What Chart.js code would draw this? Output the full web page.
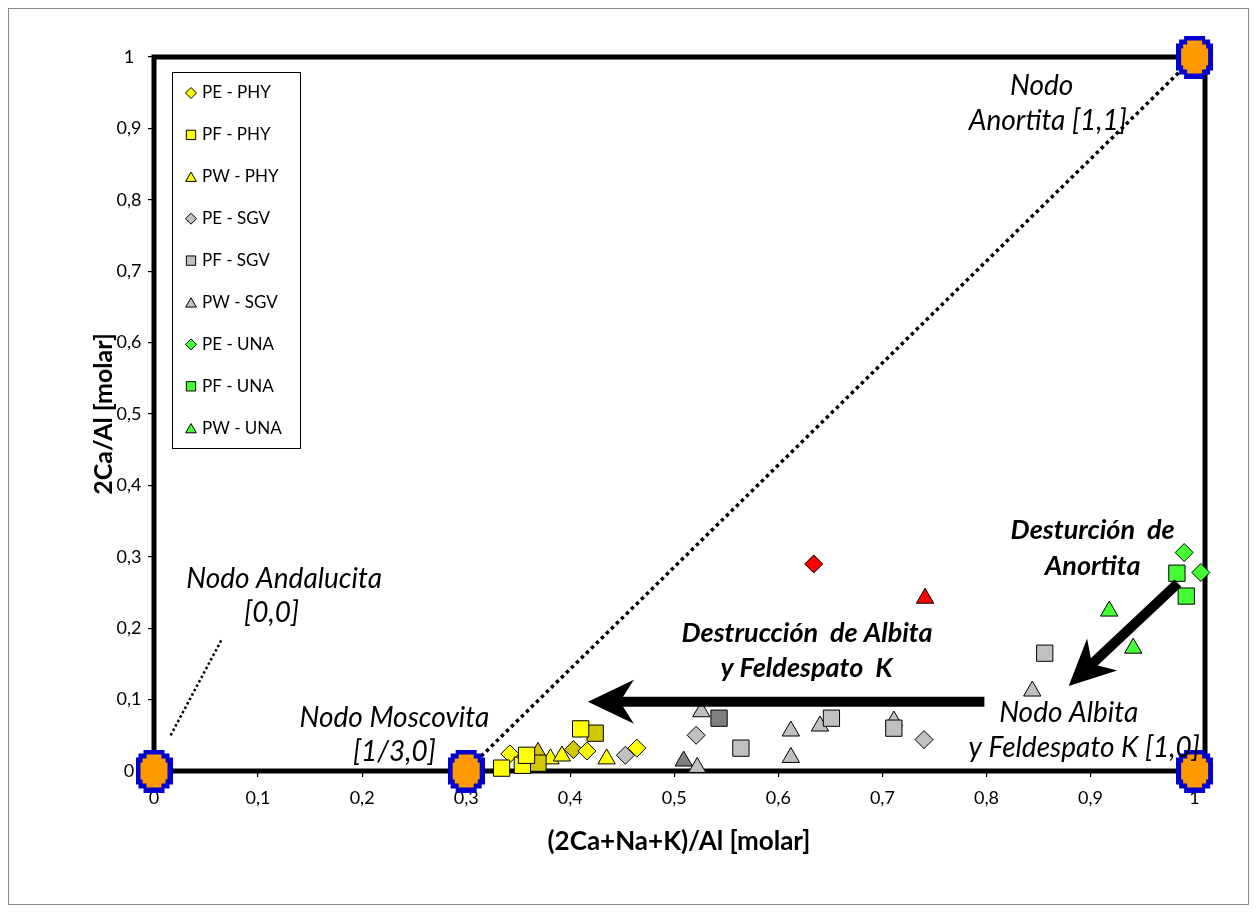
<!DOCTYPE html>
<html>
<head>
<meta charset="utf-8">
<script src="https://cdn.jsdelivr.net/npm/chart.js@4.4.0/dist/chart.umd.min.js"></script>
<style>
  html, body { margin: 0; padding: 0; background: #fff; }
  #wrap { width: 1256px; height: 912px; position: relative; }
</style>
</head>
<body>
<div id="wrap"><canvas id="c" width="1256" height="912"></canvas></div>
<script>
// ---- Molar ratios: x = (2Ca+Na+K)/Al, y = 2Ca/Al ----
const pePhyX = [0.342, 0.416, 0.464];
const pePhyY = [0.024, 0.028, 0.032];
const pfPhyX = [0.334, 0.354, 0.358, 0.410];
const pfPhyY = [0.004, 0.008, 0.022, 0.059];
const pwPhyX = [0.381, 0.392, 0.435];
const pwPhyY = [0.017, 0.021, 0.017];

const pePhyMedX = [0.403];
const pePhyMedY = [0.030];
const pfPhyMedX = [0.369, 0.424];
const pfPhyMedY = [0.011, 0.053];
const pwPhyMedX = [0.369];
const pwPhyMedY = [0.026];

const peSgvX = [0.453, 0.521, 0.740];
const peSgvY = [0.022, 0.050, 0.044];
const pfSgvX = [0.564, 0.651, 0.711, 0.856];
const pfSgvY = [0.032, 0.074, 0.060, 0.165];
const pwSgvX = [0.526, 0.522, 0.612, 0.612, 0.640, 0.711, 0.844];
const pwSgvY = [0.083, 0.005, 0.056, 0.019, 0.063, 0.070, 0.112];

const pfSgvMedX = [0.543];
const pfSgvMedY = [0.074];
const pwSgvMedX = [0.509];
const pwSgvMedY = [0.014];

const peUnaX = [0.990, 1.006];
const peUnaY = [0.306, 0.278];
const pfUnaX = [0.983, 0.992];
const pfUnaY = [0.277, 0.245];
const pwUnaX = [0.918, 0.941];
const pwUnaY = [0.224, 0.172];

const peRefX = [0.634];
const peRefY = [0.290];
const pwRefX = [0.741];
const pwRefY = [0.242];

// Mineral end-member nodes
const nodeX = [0, 0.3, 1, 1];
const nodeY = [0, 0, 0, 1];

// Guide lines
const moscAnorX = [0.3, 1];
const moscAnorY = [0, 1];
const andalPointerX = [0.016, 0.065];
const andalPointerY = [0.050, 0.184];

// Axis ticks
const xTicks = [0, 0.1, 0.2, 0.3, 0.4, 0.5, 0.6, 0.7, 0.8, 0.9, 1];
const yTicks = [0, 0.1, 0.2, 0.3, 0.4, 0.5, 0.6, 0.7, 0.8, 0.9, 1];

// Process arrows (tail -> head), in axis units
const arrowTailX = [0.798, 0.984];
const arrowTailY = [0.097, 0.263];
const arrowHeadX = [0.417, 0.879];
const arrowHeadY = [0.097, 0.119];

// Text labels
const noteText = ['Nodo', 'Anortita [1,1]', 'Nodo Andalucita', '[0,0]', 'Nodo Moscovita', '[1/3,0]',
                  'Nodo Albita', 'y Feldespato K [1,0]'];
const noteX = [0.853, 0.859, 0.125, 0.113, 0.231, 0.231, 0.879, 0.894];
const noteY = [0.959, 0.910, 0.269, 0.221, 0.074, 0.027, 0.081, 0.032];
const processText = ['Destrucción  de Albita', 'y Feldespato  K', 'Desturción  de', 'Anortita'];
const processX = [0.6275, 0.627, 0.902, 0.902];
const processY = [0.193, 0.144, 0.3375, 0.287];

const FONT = "Lato, 'Open Sans', sans-serif";
const YELLOW = '#FFFF00', YELLOW_D = '#D2C800';
const GREY = '#C0C0C0', GREY_D = '#808080';
const GREEN = '#44FF33', RED = '#FF0000';

const pts = (xs, ys) => xs.map((x, i) => ({ x: x, y: ys[i] }));

// fat orange cross with blue rim, used for the nodes
function makeNodeGlyph() {
  const c = document.createElement('canvas');
  c.width = 37; c.height = 43;
  const g = c.getContext('2d');
  g.fillStyle = '#0000D0';
  g.fillRect(8, 0, 21, 43);
  g.fillRect(3, 4, 31, 35);
  g.fillRect(0, 8, 37, 27);
  g.fillStyle = '#FF9900';
  g.fillRect(11, 5, 15, 33);
  g.fillRect(7, 9, 23, 25);
  g.fillRect(5, 13, 27, 17);
  return c;
}
const nodeGlyph = makeNodeGlyph();

function series(label, xs, ys, style, fill, radius, inLegend, order) {
  return {
    type: 'scatter', label: label, data: pts(xs, ys),
    pointStyle: style, pointRadius: radius, pointHoverRadius: radius,
    backgroundColor: fill, borderColor: '#000', borderWidth: 1,
    clip: false, inLegend: inLegend, order: order
  };
}

const datasets = [
  { type: 'scatter', label: 'Nodos', data: pts(nodeX, nodeY), pointStyle: nodeGlyph,
    pointRadius: 20, clip: false, inLegend: false, order: 0 },
  series('PE - PHY', pePhyX, pePhyY, 'rectRot', YELLOW, 9, true, 3),
  series('PF - PHY', pfPhyX, pfPhyY, 'rect', YELLOW, 11.5, true, 2),
  series('PW - PHY', pwPhyX, pwPhyY, 'triangle', YELLOW, 10, true, 3),
  series('PE - PHY m', pePhyMedX, pePhyMedY, 'rectRot', YELLOW_D, 9, false, 3),
  series('PF - PHY m', pfPhyMedX, pfPhyMedY, 'rect', YELLOW_D, 11.5, false, 2),
  series('PW - PHY m', pwPhyMedX, pwPhyMedY, 'triangle', YELLOW_D, 10, false, 4),
  series('PE - SGV', peSgvX, peSgvY, 'rectRot', GREY, 9, true, 3),
  series('PF - SGV', pfSgvX, pfSgvY, 'rect', GREY, 11.5, true, 3),
  series('PW - SGV', pwSgvX, pwSgvY, 'triangle', GREY, 10, true, 4),
  series('PF - SGV m', pfSgvMedX, pfSgvMedY, 'rect', GREY_D, 11.5, false, 3),
  series('PW - SGV m', pwSgvMedX, pwSgvMedY, 'triangle', GREY_D, 10, false, 4),
  series('PE - UNA', peUnaX, peUnaY, 'rectRot', GREEN, 9, true, 2),
  series('PF - UNA', pfUnaX, pfUnaY, 'rect', GREEN, 11.5, true, 3),
  series('PW - UNA', pwUnaX, pwUnaY, 'triangle', GREEN, 10, true, 3),
  series('PE - ref', peRefX, peRefY, 'rectRot', RED, 9, false, 3),
  series('PW - ref', pwRefX, pwRefY, 'triangle', RED, 10, false, 3),
  { type: 'line', label: 'Moscovita-Anortita', data: pts(moscAnorX, moscAnorY), showLine: true,
    borderColor: '#000', borderWidth: 3.5, borderDash: [3.5, 3.5], pointRadius: 0,
    fill: false, clip: false, inLegend: false, order: 10 },
  { type: 'line', label: 'Andalucita', data: pts(andalPointerX, andalPointerY), showLine: true,
    borderColor: '#000', borderWidth: 2.5, borderDash: [2.5, 2.5], pointRadius: 0,
    fill: false, clip: false, inLegend: false, order: 10 }
];

const fmt = v => String(+Number(v).toFixed(1)).replace('.', ',');

const framePlugin = {
  id: 'frame',
  beforeDraw(chart) {
    const ctx = chart.ctx;
    ctx.save();
    ctx.fillStyle = '#fff';
    ctx.fillRect(0, 0, chart.width, chart.height);
    ctx.strokeStyle = '#8a8a8a';
    ctx.lineWidth = 1;
    ctx.strokeRect(8.5, 8.5, 1240, 896);
    ctx.restore();
  },
  beforeDatasetsDraw(chart) {
    const a = chart.chartArea, ctx = chart.ctx, ys = chart.scales.y;
    ctx.save();
    ctx.strokeStyle = '#000';
    ctx.lineWidth = 5;
    ctx.strokeRect(a.left, a.top, a.right - a.left, a.bottom - a.top);
    // value labels of the vertical axis, centred in their column
    ctx.fillStyle = '#000';
    ctx.font = '18px ' + FONT;
    ctx.textAlign = 'center';
    ctx.textBaseline = 'middle';
    yTicks.forEach(v => ctx.fillText(fmt(v), 129, ys.getPixelForValue(v)));
    ctx.restore();
  }
};

function drawArrow(ctx, x0, y0, x1, y1) {
  const dx = x1 - x0, dy = y1 - y0, len = Math.hypot(dx, dy);
  const ux = dx / len, uy = dy / len, nx = -uy, ny = ux;
  const headLen = 46, headHalf = 22, notch = 32, shaft = 10;
  ctx.save();
  ctx.strokeStyle = '#000';
  ctx.fillStyle = '#000';
  ctx.lineWidth = shaft;
  ctx.lineCap = 'butt';
  ctx.beginPath();
  ctx.moveTo(x0, y0);
  ctx.lineTo(x1 - ux * (notch - 2), y1 - uy * (notch - 2));
  ctx.stroke();
  ctx.beginPath();
  ctx.moveTo(x1, y1);
  ctx.lineTo(x1 - ux * headLen + nx * headHalf, y1 - uy * headLen + ny * headHalf);
  ctx.lineTo(x1 - ux * notch, y1 - uy * notch);
  ctx.lineTo(x1 - ux * headLen - nx * headHalf, y1 - uy * headLen - ny * headHalf);
  ctx.closePath();
  ctx.fill();
  ctx.restore();
}

const notesPlugin = {
  id: 'notes',
  afterDatasetsDraw(chart) {
    const ctx = chart.ctx, xs = chart.scales.x, ys = chart.scales.y;
    // arrows
    arrowTailX.forEach((tx, i) => {
      drawArrow(ctx, xs.getPixelForValue(tx), ys.getPixelForValue(arrowTailY[i]),
        xs.getPixelForValue(arrowHeadX[i]), ys.getPixelForValue(arrowHeadY[i]));
    });
    ctx.save();
    ctx.fillStyle = '#000';
    ctx.textAlign = 'center';
    ctx.textBaseline = 'middle';
    ctx.font = 'italic 28px ' + FONT;
    noteText.forEach((t, i) => ctx.fillText(t, xs.getPixelForValue(noteX[i]), ys.getPixelForValue(noteY[i])));
    ctx.font = 'italic bold 27px ' + FONT;
    processText.forEach((t, i) => ctx.fillText(t, xs.getPixelForValue(processX[i]), ys.getPixelForValue(processY[i])));

    // axis titles
    const a = chart.chartArea;
    ctx.font = 'bold 26px ' + FONT;
    ctx.fillText('(2Ca+Na+K)/Al [molar]', 679, 842);
    ctx.save();
    ctx.font = 'bold 25px ' + FONT;
    ctx.translate(104, (a.top + a.bottom) / 2);
    ctx.rotate(-Math.PI / 2);
    ctx.fillText('2Ca/Al [molar]', 0, 0);
    ctx.restore();

    // legend box inside the plot
    const lx = 172.5, ly = 72.5, lw = 128, lh = 376;
    ctx.fillStyle = '#fff';
    ctx.fillRect(lx, ly, lw, lh);
    ctx.strokeStyle = '#000';
    ctx.lineWidth = 1;
    ctx.strokeRect(lx, ly, lw, lh);
    const items = chart.data.datasets.filter(d => d.inLegend);
    const legendR = { rectRot: 5.5, rect: 6.6, triangle: 6.2 };
    items.forEach((d, i) => {
      const cy = 93 + i * 41.9;
      ctx.fillStyle = d.backgroundColor;
      ctx.strokeStyle = '#000';
      Chart.helpers.drawPoint(ctx, { pointStyle: d.pointStyle, radius: legendR[d.pointStyle],
        rotation: 0, borderWidth: 1 }, 191, d.pointStyle === 'triangle' ? cy + 1.5 : cy);
      ctx.fillStyle = '#000';
      ctx.textAlign = 'left';
      ctx.font = '17px ' + FONT;
      ctx.fillText(d.label, 202, cy);
    });
    ctx.restore();
  }
};

new Chart(document.getElementById('c'), {
  type: 'scatter',
  data: { datasets: datasets },
  options: {
    responsive: false,
    animation: false,
    layout: { padding: { left: 0, top: 57, right: 51, bottom: 0 } },
    plugins: { legend: { display: false }, tooltip: { enabled: false } },
    scales: {
      x: {
        type: 'linear', min: 0, max: 1.01,
        afterFit: s => { s.height = 141; },
        afterBuildTicks: s => { s.ticks = xTicks.map(v => ({ value: v })); },
        ticks: { callback: fmt, color: '#000', font: { family: FONT, size: 18 }, padding: 10,
                 maxRotation: 0, includeBounds: false },
        grid: { display: true, drawOnChartArea: false, drawTicks: true, tickLength: 6,
                color: '#000', lineWidth: 1.2 },
        border: { display: false }
      },
      y: {
        type: 'linear', min: 0, max: 1,
        afterFit: s => { s.width = 154; },
        afterBuildTicks: s => { s.ticks = yTicks.map(v => ({ value: v })); },
        ticks: { display: false },
        grid: { display: true, drawOnChartArea: false, drawTicks: true, tickLength: 6,
                color: '#000', lineWidth: 1.2 },
        border: { display: false }
      }
    }
  },
  plugins: [framePlugin, notesPlugin]
});
</script>
</body>
</html>
